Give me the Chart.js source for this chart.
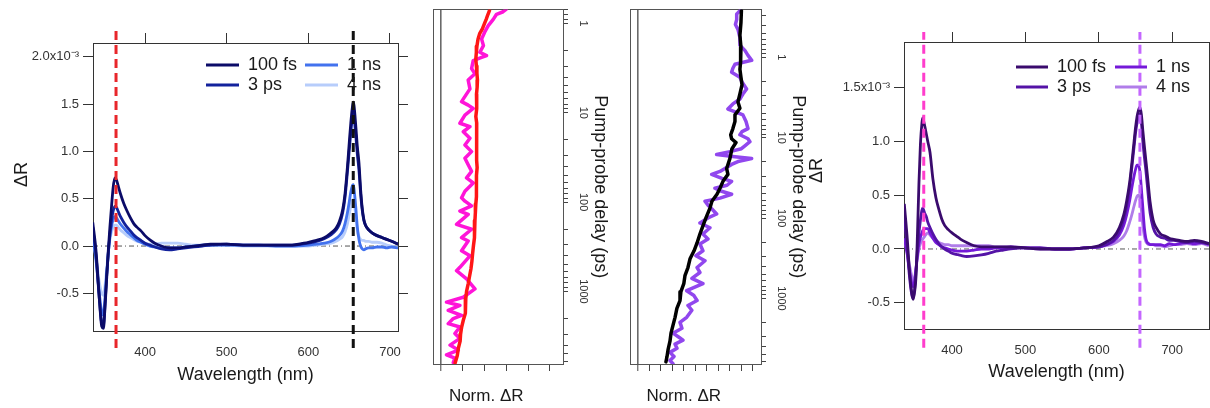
<!DOCTYPE html>
<html>
<head>
<meta charset="utf-8">
<script src="https://cdn.jsdelivr.net/npm/chart.js@4/dist/chart.umd.min.js"></script>
<style>
  html, body { margin: 0; padding: 0; background: #fff; }
  #wrap { position: relative; width: 1210px; height: 408px; overflow: hidden; }
  canvas { position: absolute; top: 0; }
</style>
</head>
<body>
<div id="wrap">
  <canvas id="specA" width="420" height="408" style="left:0px"></canvas>
  <canvas id="kinA" width="200" height="408" style="left:420px"></canvas>
  <canvas id="kinB" width="195" height="408" style="left:620px"></canvas>
  <canvas id="specB" width="415" height="408" style="left:795px"></canvas>
</div>
<script>
// ---------------------------------------------------------------------------
// Data (ΔR in units of 1e-3, wavelength in nm)
// ---------------------------------------------------------------------------
const seriesLabels = ['100 fs', '3 ps', '1 ns', '4 ns'];

// left spectra panel
const wlA = [336, 340, 344, 347, 349, 351, 353, 355, 357, 359, 361, 363, 365, 367, 370,
  374, 378, 382, 386, 390, 395, 400, 406, 412, 420, 430, 440, 450, 460, 470,
  480, 500, 520, 540, 560, 580, 600, 610, 620, 628, 634, 638, 642, 645, 648,
  650, 652, 654, 655, 656, 658, 660, 662, 664, 666, 668, 670, 674, 678, 684,
  690, 696, 702, 710];
const specA_100fs = [0.25, -0.05, -0.55, -0.85, -0.87, -0.65, -0.35, -0.05, 0.2, 0.42,
  0.62, 0.72, 0.7, 0.64, 0.55, 0.45, 0.37, 0.3, 0.24, 0.2,
  0.16, 0.11, 0.065, 0.03, 0.0, -0.02, -0.02, -0.01, 0.0, 0.01,
  0.02, 0.02, 0.01, 0.01, 0.01, 0.01, 0.04, 0.06, 0.09, 0.14,
  0.19, 0.26, 0.38, 0.56, 0.85, 1.08, 1.3, 1.47, 1.52, 1.48,
  1.28, 1.05, 0.88, 0.6, 0.4, 0.28, 0.22, 0.17, 0.14, 0.11,
  0.09, 0.07, 0.05, 0.02];
const specA_3ps = [0.2, -0.1, -0.55, -0.82, -0.84, -0.62, -0.32, -0.08, 0.12, 0.27,
  0.37, 0.42, 0.41, 0.37, 0.31, 0.25, 0.2, 0.16, 0.12, 0.09,
  0.06, 0.03, 0.01, -0.01, -0.03, -0.04, -0.03, -0.02, -0.01, 0.0,
  0.01, 0.02, 0.01, 0.01, 0.01, 0.01, 0.03, 0.05, 0.08, 0.12,
  0.17, 0.23, 0.35, 0.52, 0.8, 1.0, 1.2, 1.36, 1.4, 1.36,
  1.18, 0.97, 0.8, 0.56, 0.38, 0.27, 0.22, 0.17, 0.14, 0.11,
  0.09, 0.07, 0.05, 0.02];
const specA_1ns = [0.1, -0.15, -0.5, -0.7, -0.73, -0.55, -0.3, -0.08, 0.1, 0.21,
  0.28, 0.31, 0.3, 0.27, 0.23, 0.19, 0.15, 0.12, 0.09, 0.06,
  0.04, 0.02, 0.0, -0.01, -0.02, -0.02, -0.02, -0.01, 0.0, 0.01,
  0.01, 0.01, 0.01, 0.01, 0.0, 0.0, 0.01, 0.02, 0.03, 0.05,
  0.08, 0.11, 0.16, 0.24, 0.36, 0.46, 0.57, 0.64, 0.65, 0.6,
  0.42, 0.2, 0.07, 0.0, -0.03, -0.04, -0.03, -0.02, -0.02, -0.01,
  -0.01, -0.02, -0.01, -0.02];
const specA_4ns = [0.08, -0.12, -0.38, -0.5, -0.52, -0.42, -0.25, -0.07, 0.07, 0.15,
  0.2, 0.22, 0.22, 0.2, 0.17, 0.14, 0.11, 0.09, 0.07, 0.05,
  0.04, 0.03, 0.02, 0.02, 0.03, 0.03, 0.03, 0.02, 0.01, 0.01,
  0.01, 0.01, 0.0, 0.0, 0.0, 0.0, 0.0, 0.01, 0.02, 0.03,
  0.05, 0.07, 0.1, 0.15, 0.24, 0.33, 0.42, 0.48, 0.49, 0.46,
  0.33, 0.17, 0.1, 0.07, 0.06, 0.06, 0.05, 0.05, 0.04, 0.04,
  0.03, 0.01, 0.0, -0.02];

// right spectra panel
const wlB = [335, 339, 342, 345, 347, 349, 351, 353, 355, 357, 359, 360, 361, 363, 365,
  367, 370, 374, 378, 382, 386, 390, 395, 400, 406, 412, 420, 430, 440, 450,
  460, 470, 480, 500, 520, 540, 560, 580, 600, 610, 620, 628, 634, 638, 642,
  645, 648, 650, 652, 654, 656, 658, 660, 662, 664, 666, 668, 670, 674, 678,
  684, 690, 696, 702, 710, 720, 730, 740, 750];
const specB_100fs = [0.42, 0.1, -0.2, -0.4, -0.47, -0.4, -0.25, 0.15, 0.62, 0.98,
  1.17, 1.22, 1.2, 1.14, 1.07, 1.0, 0.9, 0.65, 0.48, 0.37,
  0.28, 0.22, 0.18, 0.15, 0.12, 0.09, 0.06, 0.03, 0.02, 0.02,
  0.02, 0.02, 0.02, 0.01, 0.0, 0.0, 0.0, 0.01, 0.03, 0.065,
  0.11, 0.2, 0.32, 0.45, 0.62, 0.8, 1.0, 1.13, 1.23, 1.29,
  1.32, 1.25, 1.1, 0.96, 0.83, 0.7, 0.56, 0.43, 0.27, 0.2,
  0.14, 0.12, 0.1, 0.09, 0.08, 0.07, 0.08, 0.07, 0.05];
const specB_3ps = [0.3, 0.0, -0.25, -0.42, -0.46, -0.38, -0.2, 0.0, 0.15, 0.27,
  0.36, 0.38, 0.37, 0.33, 0.3, 0.25, 0.2, 0.14, 0.09, 0.05,
  0.02, 0.0, -0.02, -0.04, -0.05, -0.06, -0.07, -0.065, -0.055, -0.04,
  -0.02, -0.01, 0.0, 0.01, 0.01, 0.0, 0.0, 0.01, 0.02, 0.04,
  0.08, 0.16, 0.28, 0.4, 0.58, 0.76, 0.95, 1.08, 1.17, 1.24,
  1.26, 1.18, 1.0, 0.86, 0.74, 0.6, 0.45, 0.33, 0.2, 0.14,
  0.11, 0.1, 0.08, 0.08, 0.07, 0.06, 0.07, 0.06, 0.05];
const specB_1ns = [0.1, -0.05, -0.2, -0.32, -0.35, -0.3, -0.18, -0.05, 0.05, 0.11,
  0.15, 0.17, 0.18, 0.19, 0.19, 0.19, 0.15, 0.1, 0.06, 0.04,
  0.02, 0.01, 0.0, -0.01, -0.02, -0.02, -0.02, -0.01, 0.0, 0.0,
  0.01, 0.01, 0.02, 0.01, 0.01, 0.0, 0.0, 0.01, 0.02, 0.04,
  0.07, 0.13, 0.22, 0.32, 0.45, 0.57, 0.68, 0.74, 0.78, 0.78,
  0.72, 0.56, 0.38, 0.2, 0.1, 0.06, 0.05, 0.04, 0.04, 0.04,
  0.04, 0.03, 0.05, 0.04, 0.05, 0.06, 0.05, 0.06, 0.04];
const specB_4ns = [0.08, -0.03, -0.15, -0.25, -0.3, -0.27, -0.18, -0.08, 0.0, 0.05,
  0.08, 0.09, 0.1, 0.12, 0.14, 0.15, 0.13, 0.1, 0.08, 0.06,
  0.05, 0.04, 0.04, 0.03, 0.03, 0.03, 0.03, 0.03, 0.03, 0.03,
  0.02, 0.02, 0.02, 0.01, 0.0, 0.0, 0.0, 0.01, 0.02, 0.03,
  0.05, 0.08, 0.12, 0.17, 0.25, 0.32, 0.4, 0.45, 0.49, 0.5,
  0.47, 0.36, 0.22, 0.12, 0.07, 0.05, 0.04, 0.04, 0.04, 0.03,
  0.03, 0.02, 0.03, 0.04, 0.04, 0.05, 0.04, 0.05, 0.03];

// probe wavelengths marked by dashed lines
const markersA = [364.5, 655];
const markersB = [361.5, 656];

const wlTicks = [400, 500, 600, 700];
const yTicksA = [-0.5, 0, 0.5, 1, 1.5, 2];
const yTicksB = [-0.5, 0, 0.5, 1, 1.5];

// kinetics, left (UV probe): noisy trace and smoothed trace
const kinA_rawDelay = [0.69, 0.74, 0.79, 0.9, 1.06, 1.26, 1.49, 1.77, 2.1, 2.29,
  2.4, 2.6, 3.2, 3.66, 4.3, 5.4, 7.5, 8.2, 8.95, 10.6,
  13.1, 14.3, 16.3, 19.3, 22.9, 27.2, 32.2, 38.1, 45.2, 53.5,
  61, 75.6, 89.5, 97.5, 110, 126, 137, 177, 201, 250,
  272, 350, 399, 537, 585, 724, 935, 1160, 1317, 1433,
  1630, 1850, 2010, 2290, 2500, 2950, 3350, 3980, 4520, 5130,
  5570, 6250];
const kinA_rawNorm = [0.6, 0.57, 0.51, 0.48, 0.434, 0.4, 0.373, 0.39, 0.357, 0.418,
  0.373, 0.296, 0.281, 0.312, 0.25, 0.266, 0.189, 0.25, 0.296, 0.22,
  0.174, 0.266, 0.205, 0.266, 0.22, 0.281, 0.22, 0.25, 0.281, 0.235,
  0.296, 0.22, 0.189, 0.22, 0.281, 0.174, 0.25, 0.143, 0.281, 0.189,
  0.25, 0.189, 0.266, 0.174, 0.143, 0.235, 0.312, 0.205, 0.051, 0.174,
  0.067, 0.189, 0.113, 0.067, 0.174, 0.128, 0.174, 0.083, 0.159, 0.051,
  0.128, 0.113];
const kinA_fitDelay = [0.72, 0.8, 0.9, 1.0, 1.15, 1.3, 1.5, 1.8, 2.1, 2.5,
  3, 3.6, 4.3, 5.2, 6.2, 7.5, 9, 11, 13, 16,
  19, 23, 28, 34, 41, 50, 60, 72, 87, 105,
  130, 160, 200, 250, 310, 380, 460, 560, 680, 820,
  1000, 1200, 1450, 1750, 2100, 2500, 3000, 3600, 4300, 5200, 6300];
const kinA_fitNorm = [0.445, 0.43, 0.415, 0.4, 0.38, 0.355, 0.34, 0.33, 0.325, 0.32,
  0.325, 0.33, 0.335, 0.332, 0.326, 0.33, 0.326, 0.32, 0.328, 0.325,
  0.33, 0.327, 0.33, 0.325, 0.332, 0.326, 0.33, 0.322, 0.325, 0.32,
  0.316, 0.312, 0.31, 0.305, 0.298, 0.29, 0.284, 0.275, 0.262, 0.25,
  0.235, 0.228, 0.222, 0.226, 0.205, 0.19, 0.18, 0.176, 0.16, 0.15, 0.13];

// kinetics, right (red probe)
const kinB_rawDelay = [0.263, 0.29, 0.34, 0.39, 0.45, 0.57, 0.71, 0.82, 0.945, 1.09,
  1.22, 1.37, 1.53, 1.77, 2.03, 2.48, 2.86, 3.3, 3.8, 4.4,
  4.9, 5.2, 6.3, 7.7, 8.4, 9.2, 10.3, 11.2, 12.6, 13.7,
  14.9, 16.2, 17.2, 18.2, 19.8, 21.5, 24.2, 26.3, 28.6, 32,
  34.9, 39, 42.5, 46.4, 50.5, 56.5, 61.8, 69, 77, 89,
  99.6, 115, 132, 158, 182, 210, 255, 294, 339, 412,
  475, 562, 654, 800, 920, 1060, 1220, 1400, 1715, 1980,
  2350, 2700, 3040, 3300, 3700, 4160, 4680, 5260, 5920, 6470];
const kinB_rawNorm = [0.887, 0.859, 0.859, 0.848, 0.87, 0.887, 0.887, 0.93, 0.957, 0.989,
  0.844, 0.826, 0.815, 0.887, 0.905, 0.945, 0.913, 0.887, 0.826, 0.783,
  0.87, 0.913, 0.94, 0.957, 0.905, 0.887, 0.957, 0.974, 0.93, 0.9,
  0.8, 0.685, 0.844, 0.989, 0.87, 0.815, 0.757, 0.714, 0.642, 0.731,
  0.815, 0.775, 0.67, 0.728, 0.815, 0.714, 0.584, 0.61, 0.644, 0.685,
  0.61, 0.54, 0.627, 0.566, 0.61, 0.54, 0.566, 0.505, 0.584, 0.515,
  0.54, 0.47, 0.566, 0.425, 0.488, 0.515, 0.436, 0.47, 0.425, 0.367,
  0.384, 0.306, 0.358, 0.393, 0.324, 0.341, 0.28, 0.315, 0.28, 0.306];
const kinB_fitDelay = [0.263, 0.37, 0.535, 0.75, 0.945, 1.15, 1.41, 1.77, 2.2, 2.86,
  3.6, 4.3, 5.2, 6.3, 7.7, 9.2, 10.3, 11.5, 13.7, 18.2,
  24.2, 28.6, 34.9, 42.5, 50.5, 61.8, 75, 99.6, 125, 158,
  204, 255, 321, 412, 520, 654, 822, 1060, 1330, 1715,
  2160, 2700, 3400, 4370, 5300, 6150];
const kinB_fitNorm = [0.9, 0.896, 0.887, 0.896, 0.896, 0.89, 0.887, 0.896, 0.905, 0.887,
  0.87, 0.887, 0.844, 0.844, 0.826, 0.807, 0.815, 0.853, 0.818, 0.8,
  0.772, 0.783, 0.74, 0.714, 0.688, 0.644, 0.627, 0.592, 0.566, 0.54,
  0.515, 0.489, 0.454, 0.436, 0.41, 0.4, 0.375, 0.367, 0.34, 0.324,
  0.306, 0.289, 0.28, 0.263, 0.254, 0.245];

const normTicksA = [0, 0.2, 0.4, 0.6, 0.8, 1.0];
const normTicksB = [0, 0.1, 0.2, 0.3, 0.4, 0.5, 0.6, 0.7, 0.8, 0.9, 1.0];
const delayMantissas = [1, 2, 3, 4, 5, 6, 7, 8, 9];
const delayDecades = [0.1, 1, 10, 100, 1000];
const delayLabels = [1, 10, 100, 1000];

// ---------------------------------------------------------------------------
Chart.defaults.font.family = "'Liberation Sans', Arial, sans-serif";
Chart.defaults.color = '#333';

const pts = (xs, ys) => xs.map((x, i) => ({ x, y: ys[i] }));
// fixed axis thickness so every chart area lands where the reference has it
const fixSize = (px) => (scale) => { if (scale.isHorizontal()) scale.height = px; else scale.width = px; };
const setTicks = (vals) => (scale) => { scale.ticks = vals.map(v => ({ value: v })); };
const delayTicks = (lo, hi) => {
  const out = [];
  delayDecades.forEach(d => delayMantissas.forEach(m => {
    const v = Math.round(m * d * 1000) / 1000;
    if (v >= lo && v <= hi) out.push(v);
  }));
  return out;
};
const NB = '\u00a0';

// two-column legend inside the plot, drawn from the dataset styles
const legendBox = {
  id: 'legendBox',
  afterDraw(chart, args, o) {
    if (!o || !o.cols) return;
    const ctx = chart.ctx;
    const items = chart.data.datasets.filter(d => d.label);
    ctx.save();
    ctx.font = '18px "Liberation Sans", Arial, sans-serif';
    ctx.textBaseline = 'middle';
    ctx.textAlign = 'left';
    items.forEach((d, i) => {
      const x = o.cols[Math.floor(i / 2)], y = o.rows[i % 2];
      ctx.strokeStyle = d.borderColor;
      ctx.lineWidth = 3;
      ctx.beginPath(); ctx.moveTo(x, y); ctx.lineTo(x + o.lineLen, y); ctx.stroke();
      ctx.fillStyle = '#1a1a1a';
      ctx.fillText(d.label, x + o.lineLen + o.gap, y);
    });
    ctx.restore();
  }
};

function spectrumChart(id, o) {
  const datasets = [];
  o.markers.forEach((m, i) => datasets.push({
    data: [{ x: m, y: o.markerSpan[0] }, { x: m, y: o.markerSpan[1] }],
    borderColor: o.markerColors[i], borderWidth: 3, borderDash: [9, 5], clip: false
  }));
  o.series.forEach((s, i) => datasets.push({
    label: seriesLabels[i], data: pts(o.wl, s), borderColor: o.colors[i],
    borderWidth: 2.8, cubicInterpolationMode: 'monotone'
  }));
  datasets.push({
    data: [{ x: o.xMin, y: 0 }, { x: o.xMax, y: 0 }],
    borderColor: '#555', borderWidth: 1, borderDash: [5, 3, 1, 3]
  });

  const axisLine = { color: '#333', width: 1 };
  return new Chart(document.getElementById(id), {
    type: 'line',
    data: { datasets },
    plugins: [legendBox],
    options: {
      responsive: false, animation: false, devicePixelRatio: 1,
      layout: { padding: 0 },
      elements: { point: { radius: 0 }, line: { fill: false, borderJoinStyle: 'round' } },
      plugins: { legend: { display: false }, tooltip: { enabled: false }, legendBox: o.legend },
      scales: {
        x: {
          type: 'linear', position: 'bottom', min: o.xMin, max: o.xMax,
          afterFit: fixSize(o.box.bottom), afterBuildTicks: setTicks(wlTicks),
          grid: { display: false, drawTicks: false }, border: axisLine,
          ticks: { padding: 14, font: { size: 13 }, color: '#333', callback: v => String(v) },
          title: { display: true, text: 'Wavelength (nm)', font: { size: 18 }, color: '#1a1a1a',
                   padding: { top: 0, bottom: o.xTitlePad } }
        },
        xTop: {
          type: 'linear', position: 'top', min: o.xMin, max: o.xMax,
          afterFit: fixSize(o.box.top), afterBuildTicks: setTicks(wlTicks),
          grid: { drawOnChartArea: false, tickLength: 10, color: '#333' },
          border: axisLine, ticks: { display: false }
        },
        y: {
          type: 'linear', position: 'left', min: o.yMin, max: o.yMax,
          afterFit: fixSize(o.box.left), afterBuildTicks: setTicks(o.yTicks),
          grid: { drawOnChartArea: false, tickLength: 10, color: '#333' },
          border: axisLine,
          ticks: { padding: o.yTickPad, font: { size: 13 }, color: '#333',
                   callback: v => v === o.yTop ? v.toFixed(1) + 'x10\u207B\u00B3' : v.toFixed(1) },
          title: { display: true, text: o.yTitle, font: { size: 18 }, color: '#1a1a1a',
                   padding: { top: o.yTitlePad, bottom: 0 } }
        },
        yRight: {
          type: 'linear', position: 'right', min: o.yMin, max: o.yMax,
          afterFit: fixSize(o.box.right), afterBuildTicks: setTicks(o.yTicks),
          grid: { drawOnChartArea: false, tickLength: 10, color: '#333' },
          border: axisLine, ticks: { display: false }
        }
      }
    }
  });
}

function kineticsChart(id, o) {
  const frame = { color: '#555', width: 1 };
  const datasets = [
    { data: pts(o.fitNorm, o.fitDelay), borderColor: o.fitColor, borderWidth: 3.5,
      xAxisID: 'x', yAxisID: 'y' },
    { data: pts(o.rawNorm, o.rawDelay), borderColor: o.rawColor, borderWidth: 3.5,
      xAxisID: 'x', yAxisID: 'y' }
  ];
  return new Chart(document.getElementById(id), {
    type: 'line',
    data: { datasets },
    options: {
      responsive: false, animation: false, devicePixelRatio: 1,
      layout: { padding: 0 },
      elements: { point: { radius: 0 },
                  line: { fill: false, tension: 0, borderJoinStyle: 'round', borderCapStyle: 'round' } },
      plugins: { legend: { display: false }, tooltip: { enabled: false } },
      scales: {
        x: {
          type: 'linear', position: 'bottom', min: o.nMin, max: o.nMax,
          afterFit: fixSize(o.box.bottom), afterBuildTicks: setTicks(o.normTicks),
          grid: {
            drawOnChartArea: true, tickLength: 7, tickColor: '#444', tickWidth: 1,
            color: c => (c.tick && c.tick.value === 0) ? '#6a6a6a' : 'rgba(0,0,0,0)',
            lineWidth: c => (c.tick && c.tick.value === 0) ? 1.6 : 1
          },
          border: frame, ticks: { display: false },
          title: { display: true, text: 'Norm. \u0394R' + NB.repeat(5), font: { size: 17 },
                   color: '#1a1a1a', padding: { top: 0, bottom: 1 } }
        },
        xTop: {
          type: 'linear', position: 'top', min: o.nMin, max: o.nMax,
          afterFit: fixSize(o.box.top), grid: { display: false, drawTicks: false },
          border: frame, ticks: { display: false }
        },
        y: {
          type: 'logarithmic', position: 'right', reverse: true, min: o.dMin, max: o.dMax,
          afterFit: fixSize(o.box.right), afterBuildTicks: setTicks(delayTicks(o.dMin, o.dMax)),
          grid: { drawOnChartArea: false, tickLength: 5, color: '#444' },
          border: frame,
          ticks: { autoSkip: false, minRotation: -90, maxRotation: -90, crossAlign: 'center',
                   padding: 3, font: { size: 11 }, color: '#333',
                   callback: v => delayLabels.includes(v) ? String(v) : '' },
          title: { display: true, text: 'Pump-probe delay (ps)', font: { size: 18 }, color: '#1a1a1a',
                   padding: { top: o.titlePad, bottom: 0 } }
        },
        yLeft: {
          type: 'logarithmic', position: 'left', reverse: true, min: o.dMin, max: o.dMax,
          afterFit: fixSize(o.box.left), grid: { display: false, drawTicks: false },
          border: frame, ticks: { display: false }
        }
      }
    }
  });
}

spectrumChart('specA', {
  wl: wlA, series: [specA_100fs, specA_3ps, specA_1ns, specA_4ns],
  colors: ['#0b0b68', '#13229c', '#4272ee', '#b7cdfb'],
  markers: markersA, markerColors: ['#e8262b', '#111111'], markerSpan: [-1.078, 2.275],
  xMin: 336.3, xMax: 709.8, yMin: -0.898, yMax: 2.146, yTicks: yTicksA, yTop: 2,
  box: { left: 93, right: 22, top: 43, bottom: 77 },
  yTickPad: 4, yTitle: NB.repeat(5) + '\u0394R', yTitlePad: 11, xTitlePad: 22,
  legend: { cols: [206, 305], rows: [65, 85], lineLen: 33, gap: 9 }
});

kineticsChart('kinA', {
  fitDelay: kinA_fitDelay, fitNorm: kinA_fitNorm, rawDelay: kinA_rawDelay, rawNorm: kinA_rawNorm,
  fitColor: '#ff1616', rawColor: '#ff14d8',
  nMin: -0.073, nMax: 1.12, normTicks: normTicksA, dMin: 0.7, dMax: 6480,
  box: { left: 13, right: 57, top: 7, bottom: 44 }, titlePad: 9
});

kineticsChart('kinB', {
  fitDelay: kinB_fitDelay, fitNorm: kinB_fitNorm, rawDelay: kinB_rawDelay, rawNorm: kinB_rawNorm,
  fitColor: '#000000', rawColor: '#9147ee',
  nMin: -0.067, nMax: 1.07, normTicks: normTicksB, dMin: 0.255, dMax: 6530,
  box: { left: 10, right: 54, top: 7, bottom: 44 }, titlePad: 6
});

spectrumChart('specB', {
  wl: wlB, series: [specB_100fs, specB_3ps, specB_1ns, specB_4ns],
  colors: ['#3a0b6d', '#5413a6', '#7419d8', '#b07de9'],
  markers: markersB, markerColors: ['#ff3dcc', '#c466ff'], markerSpan: [-0.92, 2.02],
  xMin: 334.6, xMax: 750.1, yMin: -0.745, yMax: 1.927, yTicks: yTicksB, yTop: 1.5,
  box: { left: 109, right: 1, top: 42, bottom: 79 },
  yTickPad: 4, yTitle: NB.repeat(6) + '\u0394R', yTitlePad: 11, xTitlePad: 25,
  legend: { cols: [221, 320], rows: [67, 87], lineLen: 32, gap: 9 }
});
</script>
</body>
</html>
